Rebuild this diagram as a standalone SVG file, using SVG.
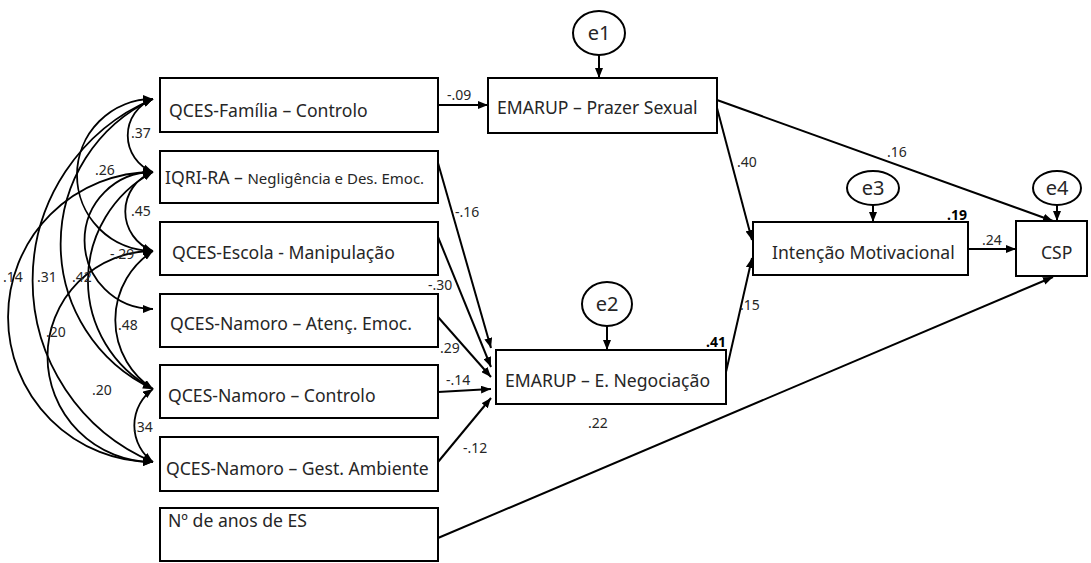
<svg xmlns="http://www.w3.org/2000/svg" width="1091" height="563" viewBox="0 0 1091 563">
  <style>
    .box { fill: #ffffff; stroke: #000000; stroke-width: 2; }
    .err { fill: #ffffff; stroke: #000000; stroke-width: 2; }
    .lbl { font-family: "Noto Sans", "Open Sans", sans-serif; font-size: 17.6px; fill: #262626; }
    .small { font-size: 15px; }
    .coef { font-family: "Noto Sans", "Open Sans", sans-serif; font-size: 14px; fill: #262626; }
    .bold { font-weight: bold; fill: #000000; }
    .elbl { font-family: "Noto Sans", "Open Sans", sans-serif; font-size: 20px; fill: #262626; text-anchor: middle; }
    .path { fill: none; stroke: #000000; stroke-width: 2; marker-end: url(#head); }
    .cov { fill: none; stroke: #000000; stroke-width: 1.8; marker-start: url(#head); marker-end: url(#head); }
  </style>
  <defs>
    <marker id="head" viewBox="0 0 10 8" refX="10" refY="4" markerWidth="10" markerHeight="8" markerUnits="userSpaceOnUse" orient="auto-start-reverse">
      <path d="M0,0 L10,4 L0,8 Z" fill="#000000"/>
    </marker>
  </defs>
  <rect width="1091" height="563" fill="#ffffff"/>

  <!-- exogenous variables -->
  <g id="qces-familia-controlo">
    <rect class="box" x="160" y="78" width="278" height="54"/>
    <text class="lbl" x="169" y="117">QCES-Família – Controlo</text>
  </g>
  <g id="iqri-ra">
    <rect class="box" x="160" y="151" width="278" height="52"/>
    <text class="lbl" x="165" y="184">IQRI-RA – <tspan class="small">Negligência  e Des. Emoc.</tspan></text>
  </g>
  <g id="qces-escola-manipulacao">
    <rect class="box" x="160" y="222" width="278" height="53"/>
    <text class="lbl" x="172" y="259">QCES-Escola - Manipulação</text>
  </g>
  <g id="qces-namoro-atenc">
    <rect class="box" x="160" y="294" width="278" height="53"/>
    <text class="lbl" x="170" y="330">QCES-Namoro – Atenç. Emoc.</text>
  </g>
  <g id="qces-namoro-controlo">
    <rect class="box" x="160" y="365" width="278" height="53"/>
    <text class="lbl" x="168" y="402">QCES-Namoro – Controlo</text>
  </g>
  <g id="qces-namoro-gest">
    <rect class="box" x="160" y="437" width="278" height="54"/>
    <text class="lbl" x="166" y="475">QCES-Namoro – Gest. Ambiente</text>
  </g>
  <g id="anos-es">
    <rect class="box" x="160" y="508" width="278" height="53"/>
    <text class="lbl" x="168" y="527">Nº de anos de ES</text>
  </g>

  <!-- mediators and outcome -->
  <g id="emarup-prazer">
    <rect class="box" x="488" y="78" width="229" height="55"/>
    <text class="lbl" x="497" y="114">EMARUP – Prazer Sexual</text>
  </g>
  <g id="emarup-negociacao">
    <rect class="box" x="496" y="350" width="230" height="54"/>
    <text class="lbl" x="505" y="387">EMARUP – E. Negociação</text>
  </g>
  <g id="intencao">
    <rect class="box" x="753" y="222" width="215" height="53"/>
    <text class="lbl" x="772" y="259">Intenção  Motivacional</text>
  </g>
  <g id="csp">
    <rect class="box" x="1016" y="221" width="71" height="55"/>
    <text class="lbl" x="1041" y="259">CSP</text>
  </g>

  <!-- error terms -->
  <g id="e1">
    <ellipse class="err" cx="599" cy="33" rx="26" ry="22"/>
    <text class="elbl" x="599" y="40">e1</text>
  </g>
  <g id="e2">
    <ellipse class="err" cx="607" cy="304" rx="25" ry="22"/>
    <text class="elbl" x="607" y="311">e2</text>
  </g>
  <g id="e3">
    <ellipse class="err" cx="873" cy="188" rx="26" ry="17"/>
    <text class="elbl" x="873" y="195">e3</text>
  </g>
  <g id="e4">
    <ellipse class="err" cx="1057" cy="188" rx="24" ry="17"/>
    <text class="elbl" x="1057" y="195">e4</text>
  </g>

  <!-- connectors -->
  <g id="connectors">
    <!-- residual paths -->
    <line class="path" x1="599" y1="55" x2="599" y2="78"/>
    <line class="path" x1="607" y1="326" x2="607" y2="350"/>
    <line class="path" x1="873" y1="205" x2="873" y2="222"/>
    <line class="path" x1="1057" y1="205" x2="1057" y2="221"/>

    <!-- regression paths -->
    <line class="path" x1="438" y1="105" x2="488" y2="105"/>
    <line class="path" x1="438" y1="163" x2="491" y2="348"/>
    <line class="path" x1="438" y1="237" x2="491" y2="367"/>
    <line class="path" x1="438" y1="317" x2="491" y2="377"/>
    <line class="path" x1="438" y1="392" x2="491" y2="389"/>
    <line class="path" x1="438" y1="462" x2="491" y2="398"/>
    <line class="path" x1="717" y1="108" x2="752" y2="240"/>
    <line class="path" x1="726" y1="372" x2="752" y2="258"/>
    <line class="path" x1="717" y1="100" x2="1053" y2="221"/>
    <line class="path" x1="968" y1="249" x2="1016" y2="249"/>
    <line class="path" x1="438" y1="538" x2="1053" y2="277"/>

    <!-- covariances -->
    <path class="cov" d="M153,99 A197,197 0 0 0 153,462"/>
    <path class="cov" d="M153,99 A160,160 0 0 0 153,389"/>
    <path class="cov" d="M153,172 A132,132 0 0 0 153,462"/>
    <path class="cov" d="M153,172 A123,123 0 0 0 153,389"/>
    <path class="cov" d="M153,251 A102,102 0 0 0 153,462"/>
    <path class="cov" d="M153,99 A62,62 0 0 0 153,251"/>
    <path class="cov" d="M153,172 A59,59 0 0 0 153,309"/>
    <path class="cov" d="M153,251 A82,82 0 0 0 153,389"/>
    <path class="cov" d="M153,99 A39,39 0 0 0 153,172"/>
    <path class="cov" d="M153,172 A42,42 0 0 0 153,251"/>
    <path class="cov" d="M153,389 A45,45 0 0 0 153,462"/>
  </g>

  <!-- coefficients -->
  <g id="coefficients">
    <text class="coef" x="447" y="100">-.09</text>
    <text class="coef" x="455" y="217">-.16</text>
    <text class="coef" x="428" y="290">-.30</text>
    <text class="coef" x="440" y="353">.29</text>
    <text class="coef" x="446" y="385">-.14</text>
    <text class="coef" x="463" y="453">-.12</text>
    <text class="coef bold" x="706" y="347">.41</text>
    <text class="coef" x="737" y="167">.40</text>
    <text class="coef" x="887" y="157">.16</text>
    <text class="coef bold" x="947" y="220">.19</text>
    <text class="coef" x="982" y="245">.24</text>
    <text class="coef" x="740" y="310">.15</text>
    <text class="coef" x="588" y="428">.22</text>

    <text class="coef" x="131" y="138">.37</text>
    <text class="coef" x="95" y="175">.26</text>
    <text class="coef" x="131" y="216">.45</text>
    <text class="coef" x="110" y="259">-.29</text>
    <text class="coef" x="3" y="282">.14</text>
    <text class="coef" x="37" y="282">.31</text>
    <text class="coef" x="72" y="282">.42</text>
    <text class="coef" x="118" y="330">.48</text>
    <text class="coef" x="46" y="337">.20</text>
    <text class="coef" x="92" y="395">.20</text>
    <text class="coef" x="133" y="432">.34</text>
  </g>
</svg>
